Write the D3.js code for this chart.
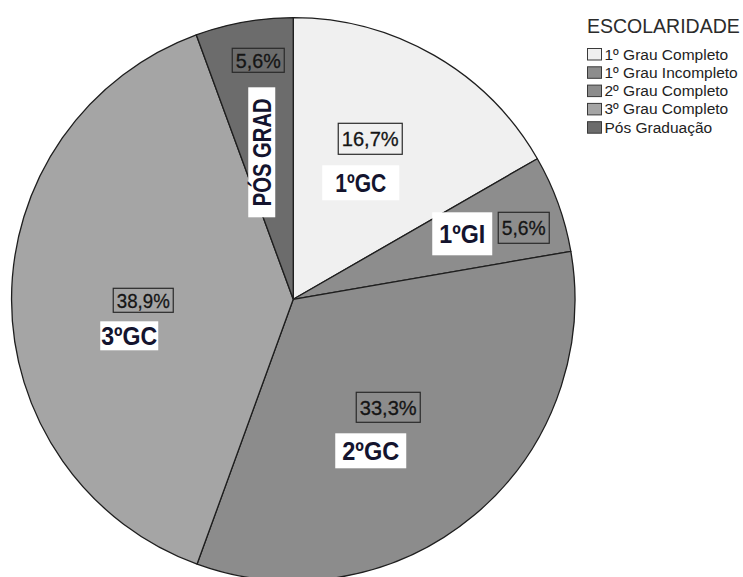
<!DOCTYPE html>
<html>
<head>
<meta charset="utf-8">
<script src="https://cdn.jsdelivr.net/npm/d3@7"></script>
<style>
  html, body { margin: 0; padding: 0; background: #ffffff; }
  svg { display: block; font-family: Arial, "Liberation Sans", sans-serif; }
</style>
</head>
<body>
<svg id="chart" width="743" height="577"></svg>
<script>
// Escolaridade dos respondentes (percentual)
const categories = ["1º Grau Completo", "1º Grau Incompleto", "2º Grau Completo", "3º Grau Completo", "Pós Graduação"];
const shortNames = ["1ºGC", "1ºGI", "2ºGC", "3ºGC", "PÓS GRAD"];
const percents = [16.7, 5.6, 33.3, 38.9, 5.6];
const percentLabels = ["16,7%", "5,6%", "33,3%", "38,9%", "5,6%"];
const legendTitle = "ESCOLARIDADE";

// Appearance
const fills = ["#f0f0f0", "#8d8d8d", "#8c8c8c", "#a5a5a5", "#6c6c6c"];
const cx = 293.25, cy = 299.3, radius = 281.7;

// Hand-placed annotation boxes, relative to the pie centre: [x, y, w, h]
const pctBoxes = [
  [45, -176, 64, 31],
  [205, -87, 51, 31],
  [63, 93, 64, 30],
  [-180, -11, 60, 24],
  [-61, -251, 52, 24]
];
// [x, y, w, h, text length]
const nameBoxes = [
  [29, -134, 77, 35, 51],
  [139, -87, 60, 43, 46],
  [42, 134, 71, 35, 57],
  [-193, 22, 58, 29, 56],
  [-45, -212, 27, 130, 108]
];

const svg = d3.select("#chart");

const pie = d3.pie().sort(null).value(d => d);
const arcs = pie(percents);
const arc = d3.arc().innerRadius(0).outerRadius(radius);

const g = svg.append("g").attr("transform", `translate(${cx},${cy})`);

g.selectAll("path.slice")
  .data(arcs)
  .join("path")
  .attr("class", "slice")
  .attr("d", arc)
  .attr("fill", (d, i) => fills[i])
  .attr("stroke", "#1e1e1e")
  .attr("stroke-width", 1.3)
  .attr("stroke-linejoin", "round");

// Percentage boxes
const pct = g.selectAll("g.pct")
  .data(arcs)
  .join("g")
  .attr("class", "pct");

pct.append("rect")
  .attr("x", (d, i) => pctBoxes[i][0])
  .attr("y", (d, i) => pctBoxes[i][1])
  .attr("width", (d, i) => pctBoxes[i][2])
  .attr("height", (d, i) => pctBoxes[i][3])
  .attr("fill", "none")
  .attr("stroke", "#2a2a2a")
  .attr("stroke-width", 1.2);

pct.append("text")
  .attr("x", (d, i) => pctBoxes[i][0] + pctBoxes[i][2] / 2)
  .attr("y", (d, i) => pctBoxes[i][1] + pctBoxes[i][3] / 2)
  .attr("text-anchor", "middle")
  .attr("dominant-baseline", "central")
  .attr("font-size", 21)
  .attr("fill", "#151515")
  .attr("stroke", "#151515")
  .attr("stroke-width", 0.3)
  .attr("textLength", (d, i) => pctBoxes[i][2] - 7)
  .attr("lengthAdjust", "spacingAndGlyphs")
  .text((d, i) => percentLabels[i]);

// Category name tags on white background
const tag = g.selectAll("g.tag")
  .data(arcs)
  .join("g")
  .attr("class", "tag");

tag.append("rect")
  .attr("x", (d, i) => nameBoxes[i][0])
  .attr("y", (d, i) => nameBoxes[i][1])
  .attr("width", (d, i) => nameBoxes[i][2])
  .attr("height", (d, i) => nameBoxes[i][3])
  .attr("fill", "#ffffff");

tag.append("text")
  .attr("transform", (d, i) => {
    const b = nameBoxes[i];
    const tx = b[0] + b[2] / 2, ty = b[1] + b[3] / 2;
    return i === 4 ? `translate(${tx},${ty}) rotate(-90)` : `translate(${tx},${ty})`;
  })
  .attr("text-anchor", "middle")
  .attr("dominant-baseline", "central")
  .attr("font-size", 25)
  .attr("font-weight", "bold")
  .attr("fill", "#14142e")
  .attr("textLength", (d, i) => nameBoxes[i][4])
  .attr("lengthAdjust", "spacingAndGlyphs")
  .text((d, i) => shortNames[i]);

// Legend
const legend = svg.append("g").attr("transform", "translate(587,0)");

legend.append("text")
  .attr("x", 0)
  .attr("y", 33)
  .attr("font-size", 19.5)
  .attr("fill", "#2b2b2b")
  .text(legendTitle);

const item = legend.selectAll("g.item")
  .data(categories)
  .join("g")
  .attr("class", "item")
  .attr("transform", (d, i) => `translate(0,${48 + i * 18.3})`);

item.append("rect")
  .attr("x", 0.5)
  .attr("y", 0.5)
  .attr("width", 14)
  .attr("height", 11.5)
  .attr("fill", (d, i) => fills[i])
  .attr("stroke", "#3a3a3a")
  .attr("stroke-width", 1);

item.append("text")
  .attr("x", 17.5)
  .attr("y", 11.5)
  .attr("font-size", 15.5)
  .attr("fill", "#222")
  .text(d => d);
</script>
</body>
</html>
